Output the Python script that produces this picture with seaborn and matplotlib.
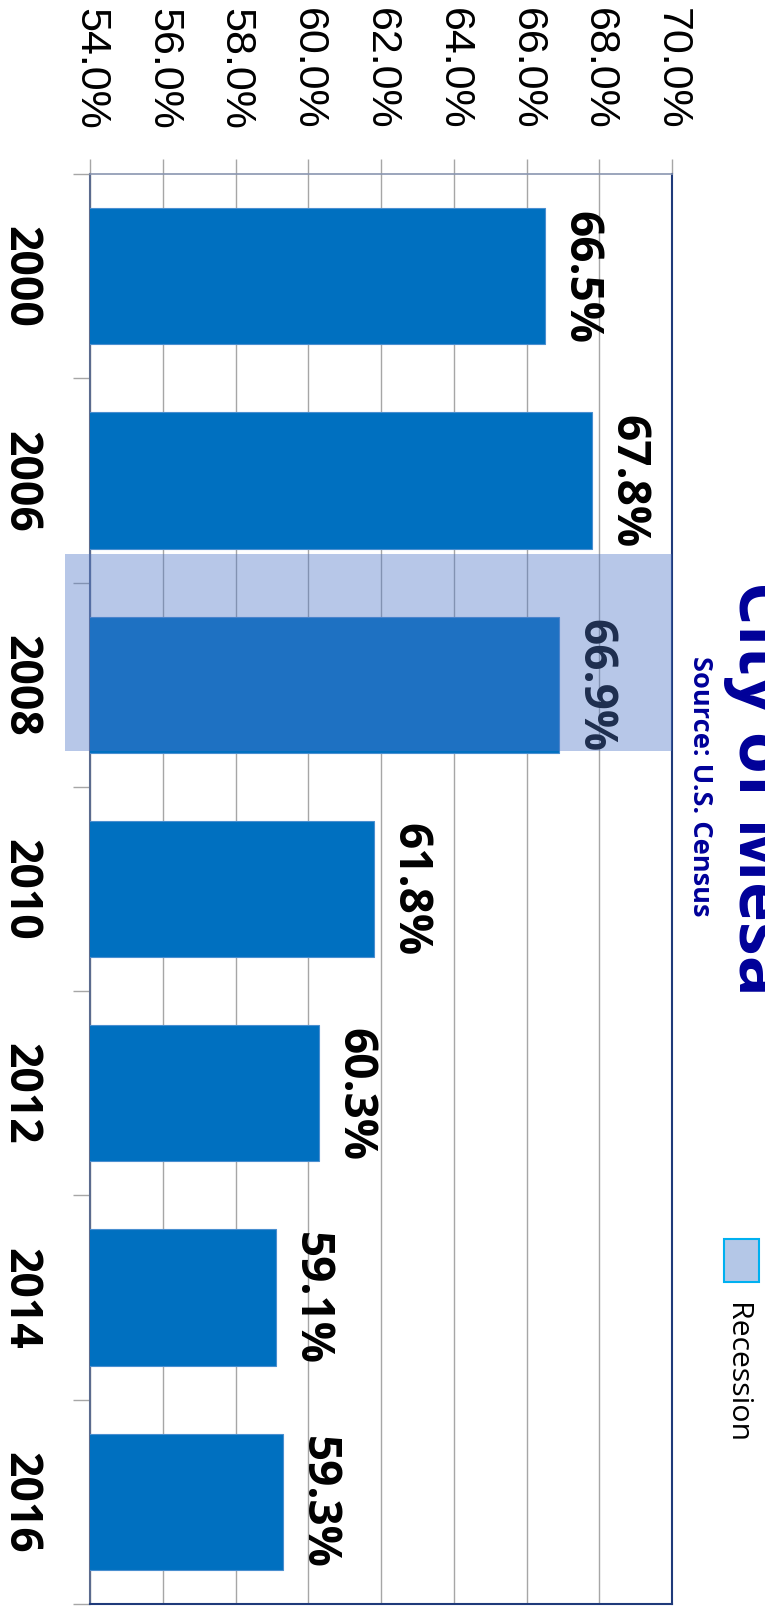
import matplotlib.pyplot as plt
import pandas as pd
import seaborn as sns
from matplotlib.patches import Rectangle

# data
years = ["2000", "2006", "2008", "2010", "2012", "2014", "2016"]
rates = [66.5, 67.8, 66.9, 61.8, 60.3, 59.1, 59.3]
recession_years = ["2008"]
x_ticks = [54, 56, 58, 60, 62, 64, 66, 68, 70]
x_tick_labels = ["54.0%", "56.0%", "58.0%", "60.0%", "62.0%", "64.0%", "66.0%", "68.0%", "70.0%"]

title = "City of Mesa"
source = "Source: U.S. Census"
legend_label = "Recession"

df = pd.DataFrame({"year": years, "rate": rates})

W, H = 765, 1608
BOLD = "Open Sans"
PLAIN = "Liberation Sans"
plt.rcParams["font.family"] = [PLAIN, "DejaVu Sans"]

fig = plt.figure(figsize=(W / 100, H / 100), dpi=100)
ax = fig.add_axes([90 / W, 3 / H, 582 / W, 1430 / H])

sns.barplot(data=df, x="rate", y="year", orient="h", color="#0070C0",
            saturation=1, width=0.667, edgecolor="#4A8FD0", linewidth=0.8,
            ax=ax, zorder=3)

ax.set_xlim(54, 70)
ax.set_ylim(6.5, -0.5)
ax.set_xlabel("")
ax.set_ylabel("")
ax.set_axisbelow(True)

# vertical gridlines + ticks on top
ax.xaxis.tick_top()
ax.set_xticks(x_ticks)
ax.set_xticklabels(x_tick_labels, fontsize=31, family=PLAIN)
ax.grid(axis="x", color="#A6A6A6", linewidth=1.0)
ax.tick_params(axis="x", which="major", direction="out", length=10.8,
               width=1.0, color="#A6A6A6", pad=22)
for lbl in ax.get_xticklabels():
    lbl.set_rotation(-90)
    lbl.set_ha("center")
    lbl.set_va("bottom")

# category labels and separators
ax.set_yticks(range(len(years)))
ax.set_yticklabels(years, fontsize=32, fontweight="bold", family=BOLD)
ax.tick_params(axis="y", which="major", length=0, pad=34)
for lbl in ax.get_yticklabels():
    lbl.set_rotation(-90)
    lbl.set_ha("right")
    lbl.set_va("center")
ax.set_yticks([i - 0.5 for i in range(len(years) + 1)], minor=True)
ax.tick_params(axis="y", which="minor", direction="out", length=12.2,
               width=1.0, color="#A6A6A6")

# frame
ax.spines["left"].set_color("#5B6B8E")
ax.spines["left"].set_linewidth(1.5)
ax.spines["top"].set_color("#8A96B0")
ax.spines["top"].set_linewidth(1.2)
ax.spines["right"].set_color("#1F3A7A")
ax.spines["right"].set_linewidth(1.5)
ax.spines["bottom"].set_color("#1F3A7A")
ax.spines["bottom"].set_linewidth(1.5)

# value labels
for i, v in enumerate(rates):
    ax.annotate(f"{v:.1f}%", xy=(v, i), xytext=(9, 0),
                textcoords="offset points", rotation=-90, ha="left",
                va="center", fontsize=33, fontweight="bold", family=BOLD,
                color="black", zorder=4)

# recession shading
for y in recession_years:
    i = years.index(y)
    ax.add_patch(Rectangle((53.31, i - 0.642), 70 - 53.31, 0.966,
                           facecolor="#4D75C6", alpha=0.4, linewidth=0,
                           clip_on=False, zorder=5))

# title and source
fig.text(723 / W, 1 - 788 / H, title, rotation=-90, ha="left", va="center",
         fontsize=49, fontweight="bold", family=BOLD, color="#000099")
fig.text(687 / W, 1 - 786 / H, source, rotation=-90, ha="left", va="center",
         fontsize=19.6, fontweight="bold", family=BOLD, color="#000099")

# legend
fig.add_artist(Rectangle((724 / W, 1 - 1283 / H), 35 / W, 43 / H,
                         transform=fig.transFigure, facecolor="#B4C7E7",
                         edgecolor="#00B0F0", linewidth=1.5))
fig.text(737 / W, 1 - 1303 / H, legend_label, rotation=-90, ha="center",
         va="top", fontsize=21.8, family=BOLD, color="black")

fig.savefig("out.png", dpi=100)
